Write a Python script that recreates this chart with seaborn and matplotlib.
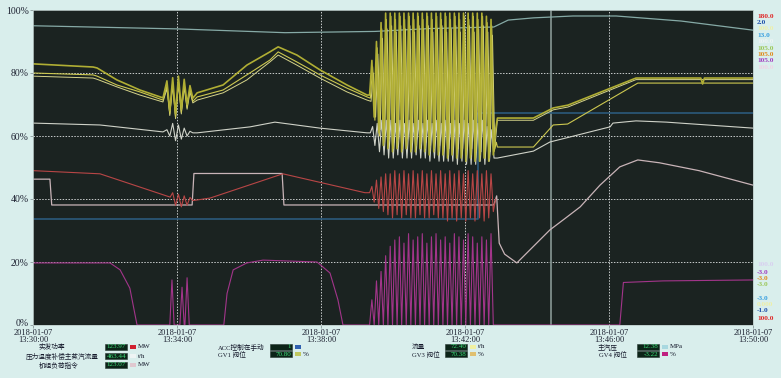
import numpy as np
import pandas as pd
import seaborn as sns
import matplotlib.pyplot as plt
import matplotlib.transforms as mtransforms
from matplotlib.patches import Rectangle

# time in minutes after 13:30:00, values in % of span
tick_minutes = [0, 4, 8, 12, 16, 20]
tick_labels = ["2018-01-07\n13:30:00", "2018-01-07\n13:34:00", "2018-01-07\n13:38:00",
               "2018-01-07\n13:42:00", "2018-01-07\n13:46:00", "2018-01-07\n13:50:00"]
cursor_minute = 14.39
osc_start, osc_end = 9.35, 12.85

# main steam pressure (top trace)
press_t = [0, 4, 7, 9.5, 11, 12.8, 13.2, 13.9, 15, 16.2, 18, 20]
press_v = [95.0, 94.0, 92.8, 93.2, 94.1, 94.6, 96.8, 97.5, 98.1, 98.1, 96.5, 93.6]

# valve positions (yellow traces)
small_osc_t = [3.72, 3.8, 3.88, 3.96, 4.04, 4.12, 4.2, 4.28, 4.36, 4.44]
gv1_pre_t = [0, 1.67, 1.78, 2.33, 2.97, 3.61]
gv1_pre_v = [82.9, 81.9, 81.6, 77.8, 74.6, 72.1]
gv1_small = [77.5, 68, 78.5, 67, 79, 68.5, 78, 70, 76, 72]
gv1_mid_t = [4.56, 5.28, 5.94, 6.58, 6.81, 7.33, 7.97, 8.72, 9.28]
gv1_mid_v = [73.7, 76.2, 82.5, 86.7, 88.3, 85.7, 81.0, 76.2, 73.0]
gv1_osc = [73, 84, 66, 90, 61, 96, 57, 99, 56, 99, 55, 99, 56, 99, 55, 99, 56, 99, 55, 99,
           55, 99, 56, 99, 55, 99, 54, 99, 55, 99, 54, 99, 54, 99, 53, 99, 54, 99, 53, 99,
           53, 99, 52, 99, 53, 99, 52, 99, 52, 99, 53, 98, 52, 97, 54, 62]
gv1_post_t = [12.9, 13.9, 14.45, 14.86, 16.75, 18.55, 18.6, 18.65, 20]
gv1_post_v = [65.7, 65.7, 68.9, 69.8, 78.4, 78.4, 76.5, 78.4, 78.4]

gv3_pre_v = [80.0, 79.4, 79.0, 76.2, 74.0, 71.4]
gv3_small = [76, 67, 77, 66, 77.5, 67.5, 76.5, 69, 75, 71]
gv3_mid_v = [72.4, 74.6, 79.4, 84.1, 86.7, 83.5, 79.4, 75.2, 72.4]
gv3_osc = [72, 82, 65, 88, 60, 94, 58, 97, 57, 98, 56, 97, 57, 98, 56, 97, 57, 98, 56, 97,
           57, 98, 56, 97, 56, 98, 55, 97, 56, 98, 55, 97, 55, 98, 54, 97, 55, 98, 54, 97,
           54, 98, 54, 97, 54, 98, 53, 97, 54, 98, 53, 96, 53, 95, 55, 58]
gv3_post_t = [12.9, 13.9, 14.45, 14.85, 16.8, 20]
gv3_post_v = [56.5, 56.5, 63.5, 63.8, 76.8, 76.8]

gv2_pre_v = [79.0, 78.4, 78.0, 75.6, 73.0, 70.8]
gv2_small = [75, 66.5, 76, 65.5, 76.5, 67, 75.5, 68.5, 74, 70.5]
gv2_mid_v = [71.4, 73.7, 77.8, 83.5, 85.7, 82.5, 78.4, 74.0, 71.4]
gv2_osc = [71, 80, 66, 86, 62, 91, 60, 94, 59, 95, 58, 93, 59, 95, 58, 94, 59, 95, 58, 93,
           59, 95, 58, 94, 58, 95, 57, 93, 58, 94, 57, 95, 57, 93, 56, 94, 57, 95, 56, 93,
           56, 94, 56, 95, 56, 93, 55, 94, 55, 95, 55, 93, 55, 92, 56, 64]
gv2_post_t = [12.9, 13.9, 14.45, 14.86, 16.75, 20]
gv2_post_v = [65.0, 65.0, 68.3, 69.2, 77.9, 77.9]

# compensated steam flow (grey trace)
flow_pre_t = [0, 1.86, 3.61]
flow_pre_v = [64.1, 63.5, 61.3]
flow_small = [62, 60, 64, 58.5, 63.5, 59, 62.5, 60, 61.5, 61]
flow_mid_t = [4.56, 6.03, 6.72, 7.97, 9.28]
flow_mid_v = [61.0, 62.9, 64.4, 62.5, 61.0]
flow_osc = [61, 63, 57, 64, 55, 65, 54, 65, 53, 65, 53, 64, 54, 65, 53, 64, 53, 65, 53, 64,
            54, 65, 53, 64, 53, 65, 52, 64, 53, 65, 52, 64, 52, 65, 52, 64, 52, 65, 51, 64,
            52, 65, 51, 64, 51, 65, 51, 64, 52, 65, 51, 63, 52, 62, 53, 53]
flow_post_t = [12.9, 13.9, 14.36, 14.92, 15.47, 16.03, 16.11, 16.75, 17.6, 17.97, 20]
flow_post_v = [53.0, 55.2, 58.1, 59.7, 61.3, 62.9, 64.1, 64.8, 64.4, 64.1, 62.5]

# actual power (red)
power_pre_t = [0, 1.86, 3.81]
power_pre_v = [49.0, 48.0, 40.6]
power_small_t = [3.88, 3.96, 4.04, 4.12, 4.2, 4.28, 4.36, 4.44]
power_small = [42, 38, 41.5, 37.5, 41, 38, 40.5, 39.5]
power_mid_t = [4.92, 6.94, 9.22]
power_mid_v = [40.3, 48.0, 42.0]
power_osc = [42, 44, 39, 46, 37, 47, 36, 48, 35, 48, 34, 49, 35, 48, 34, 49, 35, 48, 34, 49,
             34, 48, 35, 49, 34, 48, 34, 49, 35, 48, 34, 49, 34, 48, 33, 49, 34, 48, 33, 49,
             34, 48, 33, 49, 34, 48, 33, 49, 34, 48, 33, 49, 34, 48, 36, 40]

# load command (light grey)
load_t = [0, 0.47, 0.52, 4.42, 4.47, 6.92, 6.97, 12.8, 12.88, 12.95, 13.1, 13.44, 14.36,
          14.8, 15.2, 15.75, 16.3, 16.8, 17.4, 18.5, 20]
load_v = [46.3, 46.3, 38.1, 38.1, 48.1, 48.1, 38.1, 38.1, 41.0, 26.0, 22.5, 19.7, 30.2,
          34.0, 37.5, 44.4, 50.2, 52.4, 51.5, 49.0, 44.4]

# ACC manual flag (blue)
acc_t = [0, 12.35, 12.35, 20]
acc_v = [33.8, 33.8, 67.2, 67.2]

# GV4 valve (magenta)
gv4_pre_t = [0, 2.14, 2.42, 2.69, 2.89, 3.8, 3.86, 3.92, 4.08, 4.14, 4.2, 4.22, 4.28, 4.34,
             5.3, 5.39, 5.56, 5.94, 6.39, 7.89, 8.25, 8.47, 8.61, 9.3]
gv4_pre_v = [19.7, 19.7, 17.5, 11.7, 0, 0, 14.3, 0, 0, 12, 0, 0, 15, 0,
             0, 10, 17.5, 19.7, 20.6, 20, 16.5, 8, 0, 0]
gv4_osc = [0, 8, 0, 14, 0, 17, 0, 22, 0, 25, 0, 27, 0, 28, 0, 26, 0, 29, 0, 27,
           0, 28, 0, 29, 0, 26, 0, 28, 0, 29, 0, 27, 0, 28, 0, 26, 0, 29, 0, 28,
           0, 27, 0, 29, 0, 28, 0, 26, 0, 28, 0, 27, 0, 29, 0, 0]
gv4_post_t = [12.9, 16.3, 16.4, 17.5, 20]
gv4_post_v = [0, 0, 13.5, 14.0, 14.3]

right_top = [("180.0", "#e02828"), ("2.0", "#1d4fa8"), ("100.0", "#eeeea8"), ("13.0", "#3aa0e0"),
             ("100.0", "#eef4f4"), ("105.0", "#9cc85a"), ("105.0", "#e08a1a"), ("105.0", "#a040c0"),
             ("100.0", "#f0d4e4")]
right_bottom = [("100.0", "#d8d0f0"), ("-3.0", "#a040c0"), ("-3.0", "#e08a1a"), ("-3.0", "#9cc85a"),
                ("-3.0", "#3aa0e0"), ("0.000", "#eeeea8"), ("-1.0", "#1d4fa8"), ("100.0", "#e02828")]

legend_rows = [
    # label, label centre x px, y px, box x px, value, swatch colour, unit
    ("实发功率", 52, 347, 105, "123.97", "#d02030", "MW"),
    ("压力温度补偿主蒸汽流量", 62, 356, 105, "463.44", "#eef4f4", "t/h"),
    ("机组负荷指令", 59, 365, 105, "123.07", "#e0c8d0", "MW"),
    ("ACC控制在手动", 241, 347, 270, "1", "#3060b0", ""),
    ("GV1 阀位", 232, 354, 270, "70.80", "#c0c860", "%"),
    ("流量", 418, 347, 445, "72.40", "#f0f0a0", "t/h"),
    ("GV3 阀位", 426, 354, 445, "70.38", "#e0c070", "%"),
    ("主汽压", 608, 347, 637, "12.38", "#a8d8e0", "MPa"),
    ("GV4 阀位", 613, 354, 637, "-3.22", "#c02080", "%"),
]


def osc_times(vals, shift=0.0):
    return list(np.linspace(osc_start + shift, osc_end + shift, len(vals)))


def trend(ax, t, v, color, lw):
    df = pd.DataFrame({"t": t, "v": v})
    sns.lineplot(data=df, x="t", y="v", ax=ax, color=color, lw=lw,
                 estimator=None, sort=False, legend=False)


sns.set_style("dark")
plt.rcParams['font.family'] = ['Liberation Serif', 'Noto Sans CJK SC']

W, H = 781, 378
fig = plt.figure(figsize=(W / 100, H / 100), dpi=100, facecolor="#d9eeec")
ax = fig.add_axes([33 / W, 1 - 325 / H, 720 / W, 315 / H])
ax.set_facecolor("#1b2321")

for yy in [20, 40, 60, 80]:
    ax.axhline(yy, color="#c8cccc", lw=0.7, ls=(0, (1.5, 1.5)), zorder=1)
for xx in tick_minutes[1:-1]:
    ax.axvline(xx, color="#c8cccc", lw=0.7, ls=(0, (1.5, 1.5)), zorder=1)
ax.axvline(cursor_minute, color="#7f8f8c", lw=1.3, zorder=1)

trend(ax, press_t, press_v, "#86aaa6", 0.9)
trend(ax, acc_t, acc_v, "#2b5a7c", 1.2)
trend(ax, gv4_pre_t + osc_times(gv4_osc) + gv4_post_t, gv4_pre_v + gv4_osc + gv4_post_v, "#a2358a", 0.8)
trend(ax, load_t, load_v, "#c9b4b8", 0.9)
trend(ax, power_pre_t + power_small_t + power_mid_t + osc_times(power_osc),
      power_pre_v + power_small + power_mid_v + power_osc, "#b84646", 0.8)
trend(ax, flow_pre_t + small_osc_t + flow_mid_t + osc_times(flow_osc, 0.02) + flow_post_t,
      flow_pre_v + flow_small + flow_mid_v + flow_osc + flow_post_v, "#cfd2c8", 0.8)
trend(ax, gv1_pre_t + small_osc_t + gv1_mid_t + osc_times(gv2_osc, 0.04) + gv2_post_t,
      gv2_pre_v + gv2_small + gv2_mid_v + gv2_osc + gv2_post_v, "#d6d48a", 0.7)
trend(ax, gv1_pre_t + small_osc_t + gv1_mid_t + osc_times(gv3_osc, 0.02) + gv3_post_t,
      gv3_pre_v + gv3_small + gv3_mid_v + gv3_osc + gv3_post_v, "#cdc850", 0.8)
trend(ax, gv1_pre_t + small_osc_t + gv1_mid_t + osc_times(gv1_osc) + gv1_post_t,
      gv1_pre_v + gv1_small + gv1_mid_v + gv1_osc + gv1_post_v, "#b0ae34", 1.2)

ax.set_xlim(0, 20)
ax.set_ylim(0, 100)
ax.set_xticks(tick_minutes)
ax.set_xticklabels(tick_labels, fontsize=6, linespacing=0.82, color="#1c2030")
ax.set_yticks([0, 20, 40, 60, 80, 100])
ax.set_yticklabels([f"{v}%" for v in [0, 20, 40, 60, 80, 100]], fontsize=7, color="#1c2030")
ax.tick_params(axis="x", length=2.5, width=0.6, color="#8a9a9a", pad=0.3, bottom=True)
ax.tick_params(axis="y", length=2, width=0.6, color="#8a9a9a", pad=1, left=True)
# lift the "0%" label a little so it clears the first date label
zero_lbl = ax.get_yticklabels()[0]
zero_lbl.set_transform(zero_lbl.get_transform() +
                       mtransforms.ScaledTranslation(0, 3 / 100, fig.dpi_scale_trans))
ax.set_xlabel("")
ax.set_ylabel("")
for s in ax.spines.values():
    s.set_color("#b9c8c6")
    s.set_linewidth(0.6)

for i, (txt, col) in enumerate(right_top):
    fig.text(757 / W, 1 - (16 + 6.4 * i) / H, txt, color=col, fontsize=5.3,
             fontweight="bold", va="center", ha="left")
bottom_y = [265, 272, 278, 284, 298, 304, 311, 318]
for (txt, col), yy in zip(right_bottom, bottom_y):
    fig.text(757 / W, 1 - yy / H, txt, color=col, fontsize=5.3,
             fontweight="bold", va="center", ha="left")

for label, lx, ly, bx, val, sw, unit in legend_rows:
    fy = 1 - ly / H
    fig.text(lx / W, fy, label, fontsize=4.8, color="#14182a", ha="center", va="center")
    fig.add_artist(Rectangle((bx / W, fy - 3.2 / H), 22 / W, 6.4 / H,
                             transform=fig.transFigure, facecolor="#0c2418",
                             edgecolor="#2a3a34", lw=0.4))
    fig.text((bx + 21) / W, fy, val, fontsize=5, color="#3ddc78", ha="right", va="center")
    fig.add_artist(Rectangle(((bx + 25) / W, fy - 1.8 / H), 6 / W, 3.6 / H,
                             transform=fig.transFigure, facecolor=sw, edgecolor="none"))
    if unit:
        fig.text((bx + 33) / W, fy, unit, fontsize=5, color="#14182a", ha="left", va="center")

fig.savefig("out.png", dpi=100, facecolor=fig.get_facecolor())
